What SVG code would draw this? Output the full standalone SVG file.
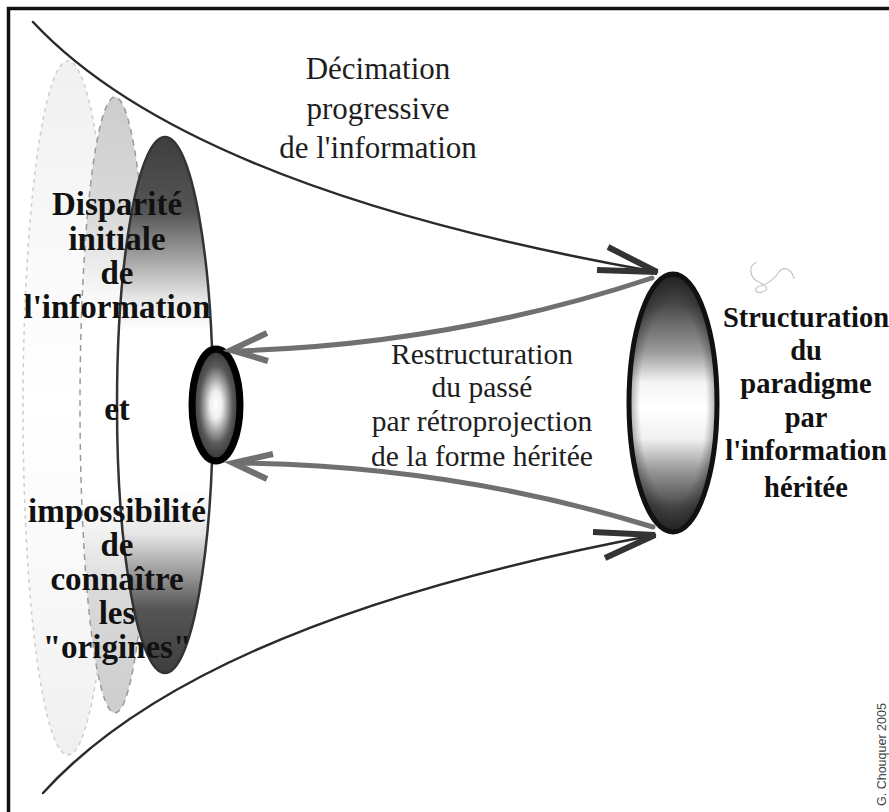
<svg xmlns="http://www.w3.org/2000/svg" width="889" height="812" viewBox="0 0 889 812">
<defs>
<linearGradient id="gDark" x1="0" y1="0" x2="0" y2="1">
<stop offset="0" stop-color="#3e3e3e"/>
<stop offset="0.14" stop-color="#555"/>
<stop offset="0.3" stop-color="#e6e6e6"/>
<stop offset="0.36" stop-color="#fff"/>
<stop offset="0.66" stop-color="#fff"/>
<stop offset="0.74" stop-color="#e6e6e6"/>
<stop offset="0.88" stop-color="#555"/>
<stop offset="1" stop-color="#3e3e3e"/>
</linearGradient>
<linearGradient id="gMid" x1="0" y1="0" x2="0" y2="1">
<stop offset="0" stop-color="#cdcdcd"/>
<stop offset="0.2" stop-color="#dadada"/>
<stop offset="0.35" stop-color="#fff"/>
<stop offset="0.65" stop-color="#fff"/>
<stop offset="0.8" stop-color="#dadada"/>
<stop offset="1" stop-color="#cdcdcd"/>
</linearGradient>
<linearGradient id="gOuter" x1="0" y1="0" x2="0" y2="1">
<stop offset="0" stop-color="#f0f0f0"/>
<stop offset="0.3" stop-color="#fafafa"/>
<stop offset="0.5" stop-color="#fff"/>
<stop offset="0.7" stop-color="#fafafa"/>
<stop offset="1" stop-color="#f0f0f0"/>
</linearGradient>
<radialGradient id="gSmall" cx="0.5" cy="0.5" r="0.5">
<stop offset="0" stop-color="#fff"/>
<stop offset="0.25" stop-color="#eee"/>
<stop offset="0.7" stop-color="#5a5a5a"/>
<stop offset="1" stop-color="#333"/>
</radialGradient>
<linearGradient id="gRight" x1="0" y1="0" x2="0" y2="1">
<stop offset="0" stop-color="#333"/>
<stop offset="0.12" stop-color="#4a4a4a"/>
<stop offset="0.3" stop-color="#9a9a9a"/>
<stop offset="0.42" stop-color="#f4f4f4"/>
<stop offset="0.52" stop-color="#fff"/>
<stop offset="0.64" stop-color="#f0f0f0"/>
<stop offset="0.76" stop-color="#999"/>
<stop offset="0.9" stop-color="#4a4a4a"/>
<stop offset="1" stop-color="#333"/>
</linearGradient>
<radialGradient id="gRightEdge" cx="0.5" cy="0.5" r="0.5">
<stop offset="0.75" stop-color="#000" stop-opacity="0"/>
<stop offset="1" stop-color="#000" stop-opacity="0.35"/>
</radialGradient>
<style>
.serif{font-family:"Liberation Serif","Times New Roman",serif;fill:#1e1e1e;text-anchor:middle}
.bold{font-family:"Liberation Serif","Times New Roman",serif;font-weight:bold;fill:#111;text-anchor:middle}
.curve{fill:none;stroke:#2a2a2a;stroke-width:2.5;stroke-linecap:round}
.head{fill:none;stroke:#333;stroke-width:6;stroke-linecap:butt;stroke-linejoin:miter}
.gray{fill:none;stroke:#707070;stroke-width:5;stroke-linecap:round}
.ghead{fill:none;stroke:#707070;stroke-width:6;stroke-linecap:butt}
</style>
</defs>
<rect width="889" height="812" fill="#fff"/>
<path d="M8.5,812 V8.5 H889" fill="none" stroke="#111" stroke-width="3.5"/>

<g id="outer-ellipse">
<ellipse cx="68" cy="408" rx="45" ry="347" fill="url(#gOuter)" stroke="#cfcfcf" stroke-width="1.5" stroke-dasharray="4,4"/>
</g>
<g id="middle-ellipse">
<ellipse cx="115" cy="405" rx="35" ry="308" fill="url(#gMid)" stroke="#9a9a9a" stroke-width="1.5" stroke-dasharray="6,5"/>
</g>
<g id="left-ellipse">
<ellipse cx="165" cy="405" rx="48" ry="268" fill="url(#gDark)" stroke="#333" stroke-width="2.5"/>
</g>
<g id="small-ellipse">
<ellipse cx="216" cy="405" rx="24" ry="56" fill="url(#gSmall)" stroke="#000" stroke-width="7"/>
</g>
<g id="right-ellipse">
<ellipse cx="673" cy="403" rx="44" ry="129" fill="url(#gRight)"/>
<ellipse cx="673" cy="403" rx="44" ry="129" fill="url(#gRightEdge)" stroke="#111" stroke-width="5"/>
</g>

<g id="connectors">
<path class="curve" d="M33,22 Q190,190 657,272"/>
<path class="head" d="M608,247 L657,272 L597,270"/>
<path class="curve" d="M43,793 Q200,620 655,535"/>
<path class="head" d="M593,532 L655,535 L605,558"/>
<path class="gray" d="M652,278 Q450,345 234,351"/>
<path class="ghead" d="M267,333 L231,350 L268,361"/>
<path class="gray" d="M653,527 Q450,465 236,463"/>
<path class="ghead" d="M273,454 L233,463 L267,479"/>
</g>

<g id="squiggle">
<path d="M757,262 C748,265 749,278 759,282 C767,286 770,290 762,292 C755,294 753,288 760,286 C768,284 775,278 779,272 C783,266 792,268 794,279" fill="none" stroke="#c4c4c4" stroke-width="1.2"/>
</g>

<g id="label-decimation">
<text class="serif" font-size="31" x="378" y="79">Décimation</text>
<text class="serif" font-size="31" x="378" y="119">progressive</text>
<text class="serif" font-size="31" x="378" y="158">de l'information</text>
</g>
<g id="label-restructuration">
<text class="serif" font-size="29.5" x="482" y="364">Restructuration</text>
<text class="serif" font-size="29.5" x="482" y="397">du passé</text>
<text class="serif" font-size="29.5" x="482" y="431">par rétroprojection</text>
<text class="serif" font-size="29.5" x="482" y="466">de la forme héritée</text>
</g>
<g id="label-left">
<text class="bold" font-size="33" x="117" y="215">Disparité</text>
<text class="bold" font-size="33" x="117" y="250">initiale</text>
<text class="bold" font-size="33" x="117" y="284">de</text>
<text class="bold" font-size="33" x="117" y="318">l'information</text>
<text class="bold" font-size="33" x="117" y="420">et</text>
<text class="bold" font-size="33" x="117" y="522">impossibilité</text>
<text class="bold" font-size="33" x="117" y="556">de</text>
<text class="bold" font-size="33" x="117" y="590">connaître</text>
<text class="bold" font-size="33" x="117" y="624">les</text>
<text class="bold" font-size="33" x="117" y="658">"origines"</text>
</g>
<g id="label-right">
<text class="bold" font-size="28.5" x="806" y="327">Structuration</text>
<text class="bold" font-size="28.5" x="806" y="360">du</text>
<text class="bold" font-size="28.5" x="806" y="393">paradigme</text>
<text class="bold" font-size="28.5" x="806" y="427">par</text>
<text class="bold" font-size="28.5" x="806" y="460">l'information</text>
<text class="bold" font-size="28.5" x="806" y="497">héritée</text>
</g>
<g id="credit">
<text transform="translate(886,806) rotate(-90)" font-family="'Liberation Sans',Arial,sans-serif" font-size="12.5" fill="#444">G. Chouquer 2005</text>
</g>
</svg>
